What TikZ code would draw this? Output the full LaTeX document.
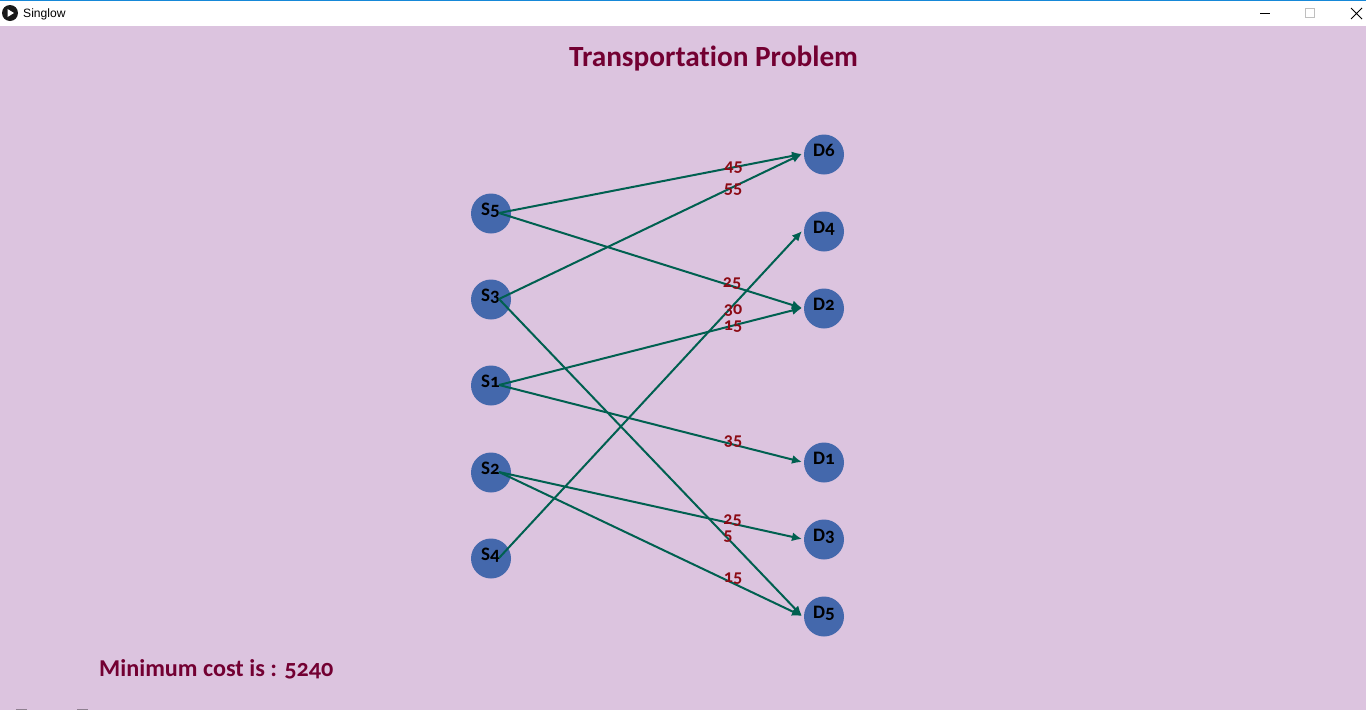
\documentclass[tikz,border=0pt]{standalone}
\usepackage{fontspec}
\setmainfont{Carlito}[Numbers=OldStyle,Ligatures=NoCommon]
\usetikzlibrary{arrows.meta}
\definecolor{bgc}{HTML}{DCC4DF}
\definecolor{blob}{HTML}{4468AC}
\definecolor{flowc}{HTML}{006050}
\definecolor{headc}{HTML}{730032}
\definecolor{qty}{HTML}{8C0A14}
\definecolor{winblue}{HTML}{1688D8}
\tikzset{
  blob/.style={circle,fill=blob,draw=none,minimum size=40pt,inner sep=0pt,font=\fontsize{19}{19}\selectfont\bfseries,text=black},
  flow/.style={draw=flowc,line width=2pt,-{Latex[length=10pt,width=9pt]}},
  qty/.style={text=qty,font=\fontsize{18}{18}\selectfont\bfseries,inner sep=0pt},
  head/.style={text=headc,font=\fontsize{29.3}{30}\selectfont\bfseries,inner sep=0pt},
  cost/.style={text=headc,font=\fontsize{24.2}{25}\selectfont\bfseries,inner sep=0pt,anchor=west},
}
\newcommand{\srcnode}[2]{\node[blob] (#1) at (491,#2+0.5) {\raisebox{8pt}{\hspace{-1pt}#1}}; \coordinate (#1o) at (499,#2);}
\newcommand{\dstnode}[2]{\node[blob] (#1) at (824,#2+0.5) {\raisebox{8pt}{#1}}; \coordinate (#1i) at (802,#2);}
\begin{document}
\begin{tikzpicture}[x=1pt,y=-1pt]
\useasboundingbox (0,0) rectangle (1366,710);
\fill[bgc] (0,0) rectangle (1366,710);
% window chrome
\fill[white] (0,0) rectangle (1366,26);
\fill[winblue] (0,0) rectangle (1366,1.3);
\fill[black!90] (10,13) circle (8);
\fill[white] (7.5,9) -- (14,13) -- (7.5,17) -- cycle;
\node[anchor=west,inner sep=0pt,font=\fontsize{12.1}{13}\selectfont,text=black] (wintitle) at (23,14) {\fontspec{Liberation Sans}Singlow};
\draw[black,line width=1pt] (1260,13) -- (1270,13);
\draw[black!25,line width=1pt] (1305.5,8.5) rectangle (1314.5,17.5);
\draw[black,line width=1pt] (1351,8) -- (1362,19) (1362,8) -- (1351,19);
% bottom remnants
\fill[black!35!bgc] (16,708.5) rectangle (27,710);
\fill[black!35!bgc] (77,708.5) rectangle (88,710);
% text
\node[head] (title) at (713.5,59) {Transportation Problem};
\node[cost] (cost) at (99,669) {Minimum cost is : 5240};
% nodes
\srcnode{S5}{213}
\srcnode{S3}{299}
\srcnode{S1}{385}
\srcnode{S2}{472}
\srcnode{S4}{558}
\dstnode{D6}{154}
\dstnode{D4}{231}
\dstnode{D2}{308}
\dstnode{D1}{462}
\dstnode{D3}{539}
\dstnode{D5}{616}
% connectors
\draw[flow] (S5o) -- (D6i);
\draw[flow] (S5o) -- (D2i);
\draw[flow] (S3o) -- (D6i);
\draw[flow] (S3o) -- (D5i);
\draw[flow] (S1o) -- (D2i);
\draw[flow] (S1o) -- (D1i);
\draw[flow] (S2o) -- (D3i);
\draw[flow] (S2o) -- (D5i);
\draw[flow] (S4o) -- (D4i);
% quantities
\node[qty] (q1) at (733.5,167.5) {45};
\node[qty] (q2) at (733,189.5) {55};
\node[qty] (q3) at (732,283.5) {25};
\node[qty] (q4) at (733,310.5) {30};
\node[qty] (q5) at (733,326.5) {15};
\node[qty] (q6) at (733,441.5) {35};
\node[qty] (q7) at (732.5,520.5) {25};
\node[qty] (q8) at (728,536.5) {5};
\node[qty] (q9) at (733,578.5) {15};
\end{tikzpicture}
\end{document}
